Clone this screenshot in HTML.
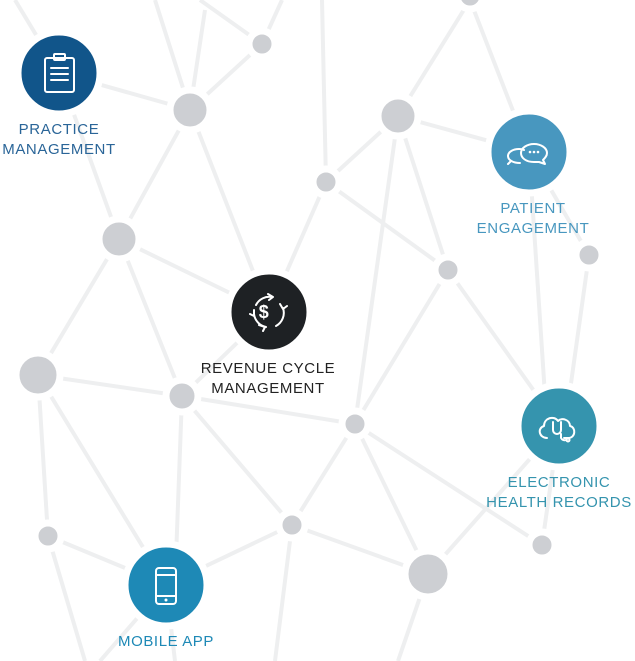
<!DOCTYPE html>
<html><head><meta charset="utf-8"><style>
html,body{margin:0;padding:0;background:#fff;width:635px;height:661px;overflow:hidden}
svg{display:block}
text{font-family:"Liberation Sans",sans-serif;font-size:15px;letter-spacing:0.6px}
</style></head><body>
<svg width="635" height="661" viewBox="0 0 635 661">
<g stroke="#eeeff0" stroke-width="4" fill="none">
<line x1="15" y1="0" x2="59" y2="73"/>
<line x1="59" y1="73" x2="190" y2="110"/>
<line x1="190" y1="110" x2="262" y2="44"/>
<line x1="190" y1="110" x2="155" y2="0"/>
<line x1="190" y1="110" x2="205" y2="10"/>
<line x1="262" y1="44" x2="282" y2="0"/>
<line x1="262" y1="44" x2="200" y2="0"/>
<line x1="190" y1="110" x2="119" y2="239"/>
<line x1="190" y1="110" x2="269" y2="312"/>
<line x1="59" y1="73" x2="119" y2="239"/>
<line x1="119" y1="239" x2="269" y2="312"/>
<line x1="119" y1="239" x2="38" y2="375"/>
<line x1="119" y1="239" x2="182" y2="396"/>
<line x1="322" y1="0" x2="326" y2="182"/>
<line x1="326" y1="182" x2="398" y2="116"/>
<line x1="326" y1="182" x2="448" y2="270"/>
<line x1="326" y1="182" x2="269" y2="312"/>
<line x1="398" y1="116" x2="470" y2="0"/>
<line x1="470" y1="0" x2="529" y2="152"/>
<line x1="398" y1="116" x2="529" y2="152"/>
<line x1="398" y1="116" x2="448" y2="270"/>
<line x1="398" y1="116" x2="355" y2="424"/>
<line x1="529" y1="152" x2="589" y2="255"/>
<line x1="529" y1="152" x2="547" y2="426"/>
<line x1="589" y1="255" x2="565" y2="426"/>
<line x1="448" y1="270" x2="559" y2="426"/>
<line x1="448" y1="270" x2="355" y2="424"/>
<line x1="38" y1="375" x2="182" y2="396"/>
<line x1="182" y1="396" x2="355" y2="424"/>
<line x1="182" y1="396" x2="269" y2="312"/>
<line x1="38" y1="375" x2="48" y2="536"/>
<line x1="38" y1="375" x2="166" y2="585"/>
<line x1="182" y1="396" x2="175" y2="585"/>
<line x1="182" y1="396" x2="292" y2="525"/>
<line x1="48" y1="536" x2="166" y2="585"/>
<line x1="48" y1="536" x2="85" y2="661"/>
<line x1="355" y1="424" x2="292" y2="525"/>
<line x1="355" y1="424" x2="428" y2="574"/>
<line x1="355" y1="424" x2="542" y2="545"/>
<line x1="559" y1="426" x2="542" y2="545"/>
<line x1="559" y1="426" x2="428" y2="574"/>
<line x1="292" y1="525" x2="166" y2="585"/>
<line x1="292" y1="525" x2="428" y2="574"/>
<line x1="292" y1="525" x2="275" y2="661"/>
<line x1="428" y1="574" x2="398" y2="661"/>
<line x1="166" y1="585" x2="100" y2="661"/>
<line x1="166" y1="585" x2="175" y2="661"/>
</g>
<g fill="#cdcfd3" stroke="#fff" stroke-width="7">
<circle cx="190" cy="110" r="20"/>
<circle cx="262" cy="44" r="13"/>
<circle cx="119" cy="239" r="20"/>
<circle cx="326" cy="182" r="13"/>
<circle cx="398" cy="116" r="20"/>
<circle cx="470" cy="-4" r="13"/>
<circle cx="448" cy="270" r="13"/>
<circle cx="589" cy="255" r="13"/>
<circle cx="38" cy="375" r="22"/>
<circle cx="182" cy="396" r="16"/>
<circle cx="355" cy="424" r="13"/>
<circle cx="48" cy="536" r="13"/>
<circle cx="292" cy="525" r="13"/>
<circle cx="428" cy="574" r="23"/>
<circle cx="542" cy="545" r="13"/>
</g>
<g stroke="#fff" stroke-width="7">
<circle cx="59" cy="73" r="41" fill="#11558a"/>
<circle cx="269" cy="312" r="41" fill="#1e2124"/>
<circle cx="529" cy="152" r="41" fill="#4897bf"/>
<circle cx="559" cy="426" r="41" fill="#3594ae"/>
<circle cx="166" cy="585" r="41" fill="#1e89b6"/>
</g>
<g fill="none" stroke="#fff" stroke-width="2" stroke-linecap="round" stroke-linejoin="round">
<rect x="45" y="58" width="29" height="34" rx="2"/>
<rect x="54" y="54" width="11" height="6" rx="1"/>
<line x1="51" y1="68" x2="68" y2="68"/><line x1="51" y1="74" x2="68" y2="74"/><line x1="51" y1="80" x2="68" y2="80"/>
<path d="M256 305 A15 15 0 0 1 272 297 M283 308 A15 15 0 0 1 276 326 M266 327 A15 15 0 0 1 254 314"/>
<path d="M268 294 l5 3 -4 3 M280 304 l3 5 4 -3 M259 325 l6 2 -2 4 M254 310 l0 6 -4 -2"/>
<path d="M520 163 c-7 0 -12 -3 -12 -7 c0 -4 5 -7 11 -7 c2 0 4 0 5 1 M508 164 l3 -3"/>
<path d="M534 162 c-8 0 -13 -4 -13 -9 c0 -5 6 -9 13 -9 c7 0 13 4 13 9 c0 3 -2 5 -4 7 l2 4 -6 -2 c-1 0 -3 0 -5 0z"/>
<path d="M547 438 c-8 0 -10 -10 -3 -12 c0 -8 10 -11 14 -5 c4 -4 12 -1 12 5 c6 1 6 12 -2 12 l-4 0"/>
<path d="M553 422 v8 a4 4 0 0 0 8 0 v-8 M561 434 v4 a4 4 0 0 0 5 2"/>
<circle cx="568" cy="440" r="1.5"/>
<rect x="156" y="568" width="20" height="36" rx="3"/>
<line x1="156" y1="575" x2="176" y2="575"/><line x1="156" y1="596" x2="176" y2="596"/>
</g>
<text x="264" y="318" fill="#fff" font-weight="bold" text-anchor="middle" style="font-size:18px">$</text>
<g fill="#fff"><circle cx="530" cy="152" r="1.3"/><circle cx="534" cy="152" r="1.3"/><circle cx="538" cy="152" r="1.3"/><circle cx="166" cy="600" r="1.5"/></g>
<g text-anchor="middle">
<text x="59" y="134" fill="#2a6598">PRACTICE</text>
<text x="59" y="154" fill="#2a6598">MANAGEMENT</text>
<text x="268" y="373" fill="#222">REVENUE CYCLE</text>
<text x="268" y="393" fill="#222">MANAGEMENT</text>
<text x="533" y="213" fill="#4897bf">PATIENT</text>
<text x="533" y="233" fill="#4897bf">ENGAGEMENT</text>
<text x="559" y="487" fill="#3594ae">ELECTRONIC</text>
<text x="559" y="507" fill="#3594ae">HEALTH RECORDS</text>
<text x="166" y="646" fill="#1e89b6">MOBILE APP</text>
</g>
</svg>
</body></html>
